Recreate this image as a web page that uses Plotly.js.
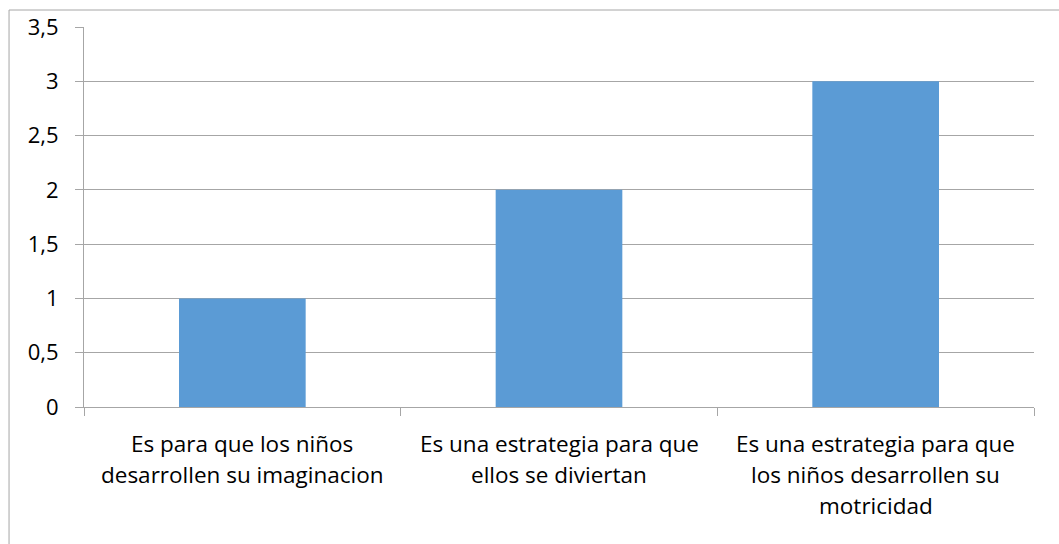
<!DOCTYPE html>
<html>
<head>
<meta charset="utf-8">
<script src="https://cdn.plot.ly/plotly-3.0.1.min.js"></script>
<style>
html,body{margin:0;padding:0;background:#fff;}
#chart{width:1059px;height:544px;}
</style>
</head>
<body>
<div id="chart"></div>
<script>
// Data
const categoryLines = [
  ["Es para que los niños", "desarrollen su imaginacion"],
  ["Es una estrategia para que", "ellos se diviertan"],
  ["Es una estrategia para que", "los niños desarrollen su", "motricidad"]
];
const categories = categoryLines.map(l => l.join(" "));
const values = [1, 2, 3];
const yTickVals = [0, 0.5, 1, 1.5, 2, 2.5, 3, 3.5];

const FONT = "Open Sans, Liberation Sans, sans-serif";
const GRID = "#a6a6a6";
const XSIZE = 22.5;
const YSIZE = 22;

const annotations = [];
categoryLines.forEach((lines, i) => {
  lines.forEach((t, j) => {
    annotations.push({
      x: categories[i], y: 0, xref: "x", yref: "y",
      text: t, showarrow: false,
      xanchor: "center", yanchor: "middle",
      yshift: -(36 + j * 31),
      font: {family: FONT, size: XSIZE, color: "#000"}
    });
  });
});

const trace = {
  type: "bar",
  x: categories,
  y: values,
  marker: {color: "#5b9bd5"},
  hoverinfo: "x+y"
};

const layout = {
  width: 1059, height: 544,
  margin: {l: 84, r: 25, t: 27, b: 137},
  paper_bgcolor: "#fff", plot_bgcolor: "#fff",
  separators: ", ",
  bargap: 0.6,
  showlegend: false,
  font: {family: FONT, size: YSIZE, color: "#000"},
  xaxis: {
    type: "category",
    showticklabels: false,
    ticks: "outside", tickson: "boundaries", ticklen: 8, tickcolor: GRID, tickwidth: 1,
    showline: true, linecolor: GRID, linewidth: 1,
    showgrid: false, zeroline: false
  },
  yaxis: {
    range: [0, 3.5],
    tickvals: yTickVals,
    ticktext: yTickVals.map(v => String(v).replace(".", ",")),
    ticks: "outside", ticklen: 8, tickcolor: GRID, tickwidth: 1,
    showline: true, linecolor: GRID, linewidth: 1,
    showgrid: true, gridcolor: GRID, gridwidth: 1,
    zeroline: false,
    tickfont: {family: FONT, size: YSIZE, color: "#000"},
    ticklabelstandoff: 12
  },
  annotations: annotations,
  shapes: [{
    type: "rect", xref: "paper", yref: "paper",
    x0: -0.0789, x1: 1.2, y0: -0.6, y1: 1.0447,
    line: {color: GRID, width: 1}, fillcolor: "rgba(0,0,0,0)",
    layer: "below"
  }]
};

Plotly.newPlot("chart", [trace], layout, {displayModeBar: false, staticPlot: true});
</script>
</body>
</html>
